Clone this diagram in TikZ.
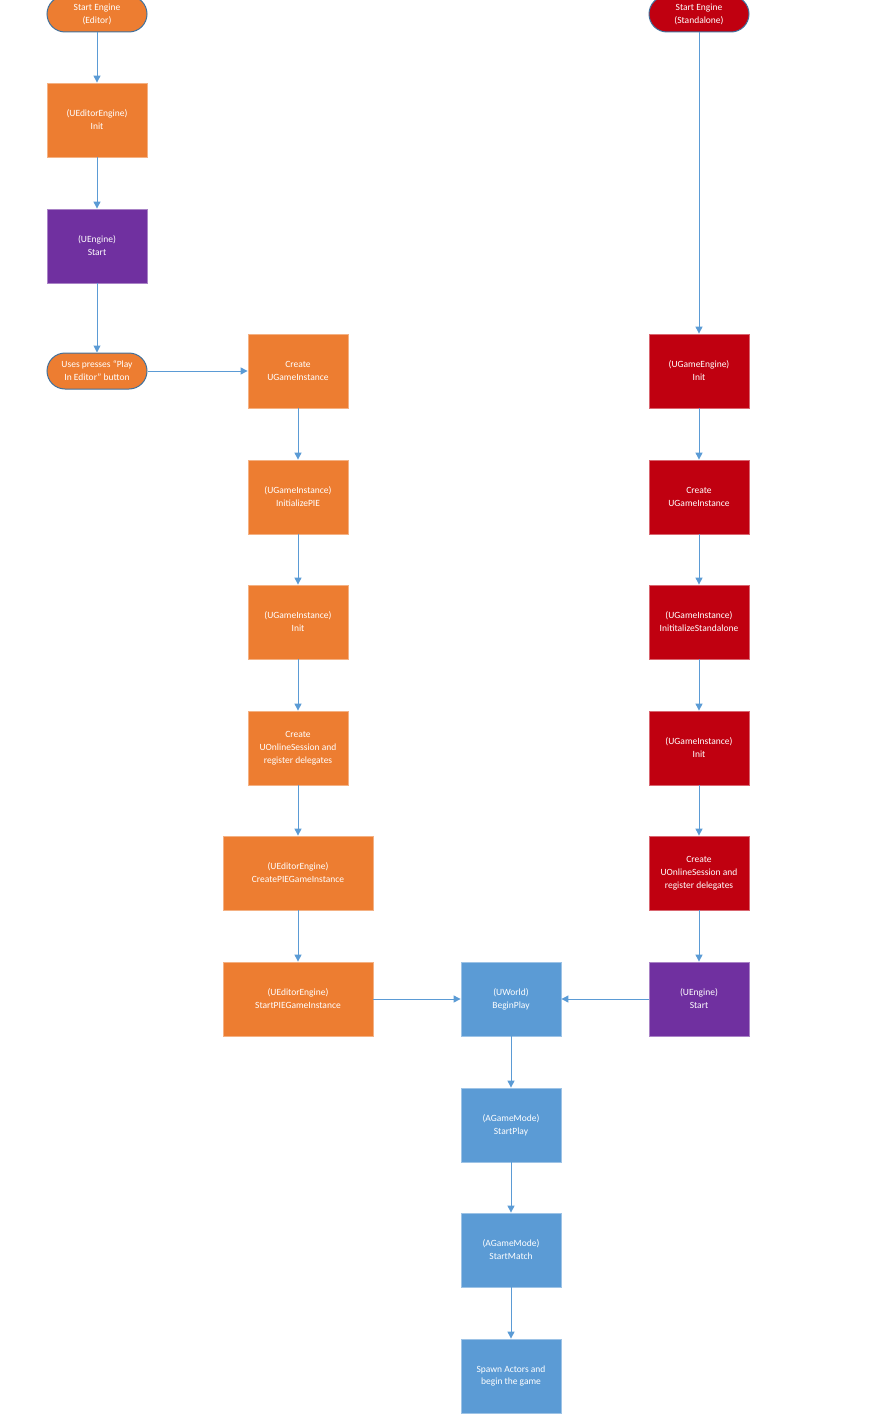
\documentclass[tikz,border=0pt]{standalone}
\usepackage{fontspec}
\setmainfont{Carlito}
\usetikzlibrary{arrows.meta}
\definecolor{orng}{HTML}{ED7D31}
\definecolor{purp}{HTML}{7030A0}
\definecolor{redb}{HTML}{C00010}
\definecolor{blub}{HTML}{5B9BD5}
\definecolor{edge}{HTML}{41719C}
\tikzset{
 x=1pt,y=-1pt,
 base/.style={minimum width=100pt,minimum height=74pt,text=white,align=center,font=\fontsize{9.5}{13}\selectfont,inner sep=1pt},
 ob/.style={base,fill=orng,draw=orng!60!white,line width=0.8pt},
 pb/.style={base,fill=purp,draw=purp!60!white,line width=0.8pt},
 rb/.style={base,fill=redb,draw=redb!60!white,line width=0.8pt},
 bb/.style={base,fill=blub,draw=blub!60!white,line width=0.8pt},
 term/.style={base,minimum height=36pt,rounded corners=18pt,draw=edge,line width=1pt},
 arr/.style={draw=blub,line width=1pt,-{Triangle[length=7pt,width=7pt]}}
}
\begin{document}
\begin{tikzpicture}
\useasboundingbox (0,0) rectangle (894,1418);
\node[term,fill=orng] (se) at (97,14) {Start Engine\\(Editor)};
\node[ob] (ei) at (97,120) {(UEditorEngine)\\Init};
\node[pb] (es) at (97,246) {(UEngine)\\Start};
\node[term,fill=orng] (up) at (97,371) {Uses presses “Play\\In Editor” button};
\node[ob] (cg) at (298,371) {Create\\UGameInstance};
\node[ob] (ip) at (298,497) {(UGameInstance)\\InitializePIE};
\node[ob] (gi) at (298,622) {(UGameInstance)\\Init};
\node[ob] (co) at (298,748) {Create\\UOnlineSession and\\register delegates};
\node[ob,minimum width=150pt] (cp) at (298,873) {(UEditorEngine)\\CreatePIEGameInstance};
\node[ob,minimum width=150pt] (sp) at (298,999) {(UEditorEngine)\\StartPIEGameInstance};
\node[term,fill=redb] (ss) at (699,14) {Start Engine\\(Standalone)};
\node[rb] (ri) at (699,371) {(UGameEngine)\\Init};
\node[rb] (rc) at (699,497) {Create\\UGameInstance};
\node[rb] (rs) at (699,622) {(UGameInstance)\\InititalizeStandalone};
\node[rb] (rg) at (699,748) {(UGameInstance)\\Init};
\node[rb] (ro) at (699,873) {Create\\UOnlineSession and\\register delegates};
\node[pb] (rst) at (699,999) {(UEngine)\\Start};
\node[bb] (bp) at (511,999) {(UWorld)\\BeginPlay};
\node[bb] (gp) at (511,1125) {(AGameMode)\\StartPlay};
\node[bb] (gm) at (511,1250) {(AGameMode)\\StartMatch};
\node[bb] (sa) at (511,1376) {Spawn Actors and\\begin the game};
\draw[arr] (se) -- (ei);
\draw[arr] (ei) -- (es);
\draw[arr] (es) -- (up);
\draw[arr] (up) -- (cg);
\draw[arr] (cg) -- (ip);
\draw[arr] (ip) -- (gi);
\draw[arr] (gi) -- (co);
\draw[arr] (co) -- (cp);
\draw[arr] (cp) -- (sp);
\draw[arr] (sp) -- (bp);
\draw[arr] (ss) -- (ri);
\draw[arr] (ri) -- (rc);
\draw[arr] (rc) -- (rs);
\draw[arr] (rs) -- (rg);
\draw[arr] (rg) -- (ro);
\draw[arr] (ro) -- (rst);
\draw[arr] (rst) -- (bp);
\draw[arr] (bp) -- (gp);
\draw[arr] (gp) -- (gm);
\draw[arr] (gm) -- (sa);
\end{tikzpicture}
\end{document}
